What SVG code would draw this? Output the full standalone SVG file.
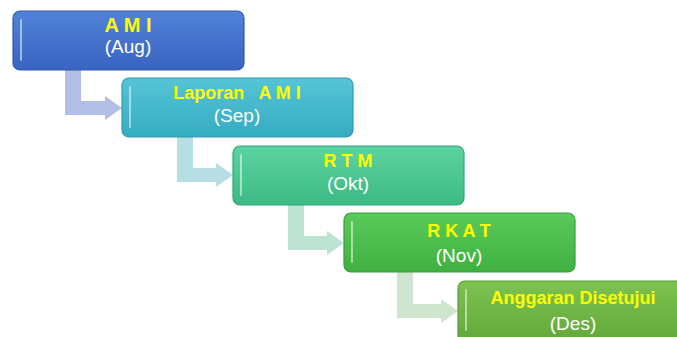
<svg xmlns="http://www.w3.org/2000/svg" width="677" height="337" viewBox="0 0 677 337">
<defs>
<linearGradient id="g1" x1="0" y1="0" x2="0" y2="1"><stop offset="0" stop-color="#5282D8"/><stop offset="1" stop-color="#3964C2"/></linearGradient>
<linearGradient id="g2" x1="0" y1="0" x2="0" y2="1"><stop offset="0" stop-color="#56C4D6"/><stop offset="1" stop-color="#35ACC2"/></linearGradient>
<linearGradient id="g3" x1="0" y1="0" x2="0" y2="1"><stop offset="0" stop-color="#5CD3A0"/><stop offset="1" stop-color="#3CB984"/></linearGradient>
<linearGradient id="g4" x1="0" y1="0" x2="0" y2="1"><stop offset="0" stop-color="#5ACB5A"/><stop offset="1" stop-color="#40B140"/></linearGradient>
<linearGradient id="g5" x1="0" y1="0" x2="0" y2="1"><stop offset="0" stop-color="#7EC250"/><stop offset="1" stop-color="#62A83A"/></linearGradient>
</defs>
<style>
.box{stroke-width:1.2}
.hl{stroke:#FFFFFF;stroke-opacity:0.5;stroke-width:2;stroke-linecap:round;fill:none}
.t{font-family:"Liberation Sans",Arial,sans-serif;font-weight:bold;font-size:18px;fill:#FFFF00;text-anchor:middle}
.s{font-family:"Liberation Sans",Arial,sans-serif;font-size:19px;fill:#FFFFFF;text-anchor:middle}
</style>
<rect width="677" height="337" fill="#FFFFFF"/>
<g id="connectors">
<path d="M65,68 H81 V101 H105 V96 L122,108 L105,120 V115 H65 Z" fill="#B3BEE6"/>
<path d="M177,135 H193 V168 H216 V163 L233,175 L216,187 V182 H177 Z" fill="#B7DEE5"/>
<path d="M288,203 H304 V236 H327 V231 L344,243 L327,255 V250 H288 Z" fill="#BDE3D3"/>
<path d="M397,270 H413 V304 H441 V299 L458,311 L441,323 V318 H397 Z" fill="#CFE5CF"/>
</g>
<g id="node1">
<rect class="box" x="13" y="11" width="231" height="59" rx="7" fill="url(#g1)" stroke="#3458A8"/>
<line class="hl" x1="21" y1="20" x2="21" y2="60"/>
<text class="t" x="128" y="32" style="font-size:20px">A M I</text>
<text class="s" x="128" y="53">(Aug)</text>
</g>
<g id="node2">
<rect class="box" x="122" y="78" width="231" height="59" rx="7" fill="url(#g2)" stroke="#2F9BB1"/>
<line class="hl" x1="130" y1="87" x2="130" y2="127"/>
<text class="t" x="237" y="99" xml:space="preserve">Laporan   A M I</text>
<text class="s" x="237" y="122">(Sep)</text>
</g>
<g id="node3">
<rect class="box" x="233" y="146" width="231" height="59" rx="7" fill="url(#g3)" stroke="#33A676"/>
<line class="hl" x1="241" y1="155" x2="241" y2="195"/>
<text class="t" x="348" y="167">R T M</text>
<text class="s" x="348" y="190">(Okt)</text>
</g>
<g id="node4">
<rect class="box" x="344" y="213" width="231" height="59" rx="7" fill="url(#g4)" stroke="#379E38"/>
<line class="hl" x1="352" y1="222" x2="352" y2="262"/>
<text class="t" x="459" y="237">R K A T</text>
<text class="s" x="459" y="262">(Nov)</text>
</g>
<g id="node5">
<rect class="box" x="458" y="281" width="231" height="62" rx="7" fill="url(#g5)" stroke="#5A9A34"/>
<line class="hl" x1="466" y1="290" x2="466" y2="330"/>
<text class="t" x="573" y="304">Anggaran Disetujui</text>
<text class="s" x="573" y="330">(Des)</text>
</g>
</svg>
